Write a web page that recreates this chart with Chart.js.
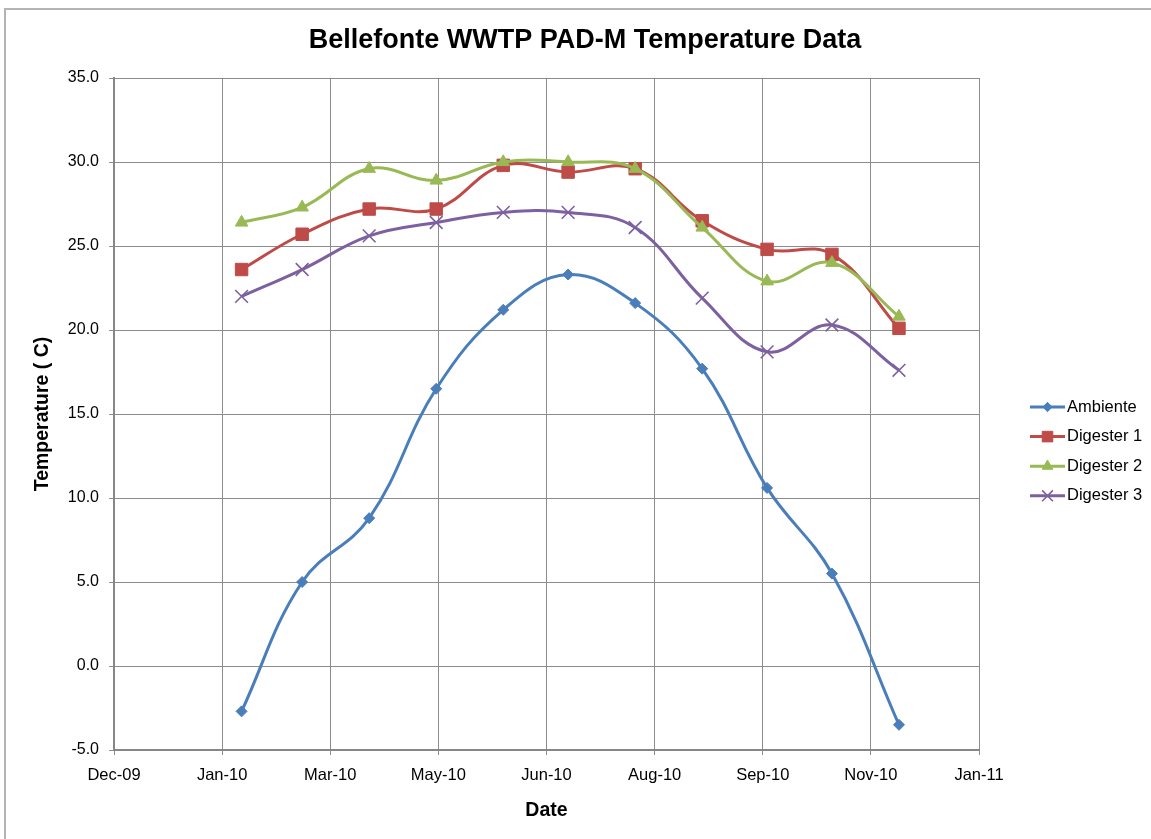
<!DOCTYPE html>
<html>
<head>
<meta charset="utf-8">
<title>Bellefonte WWTP PAD-M Temperature Data</title>
<script src="https://cdn.jsdelivr.net/npm/chart.js@4.4.1/dist/chart.umd.min.js"></script>
<style>
  html, body { margin: 0; padding: 0; background: #fff; }
  #wrap { width: 1151px; height: 839px; position: relative; }
</style>
</head>
<body>
<div id="wrap"><canvas id="tempChart"></canvas></div>
<script>
// sample dates (end of each month, 2010)
const sampleDates = ['2010-01-30', '2010-02-27', '2010-03-30', '2010-04-30', '2010-05-31', '2010-06-30',
                     '2010-07-31', '2010-08-31', '2010-09-30', '2010-10-30', '2010-11-30'];

const ambiente  = [-2.7, 5.0, 8.8, 16.5, 21.2, 23.3, 21.6, 17.7, 10.6, 5.5, -3.5];
const digester1 = [23.6, 25.7, 27.2, 27.2, 29.8, 29.4, 29.6, 26.5, 24.8, 24.5, 20.1];
const digester2 = [26.4, 27.3, 29.6, 28.9, 30.0, 30.0, 29.6, 26.1, 22.9, 24.0, 20.8];
const digester3 = [22.0, 23.6, 25.6, 26.4, 27.0, 27.0, 26.1, 21.9, 18.7, 20.3, 17.6];

// date axis: starts 2-Dec-2009, a label every 50 days (Dec-09 ... Jan-11)
const xAxisStart = '2009-12-02';
const xStepDays = 50;
const xTickCount = 9;
const yMin = -5, yMax = 35, yStep = 5;

const chartTitle = 'Bellefonte WWTP PAD-M Temperature Data';
const monthNames = ['Jan', 'Feb', 'Mar', 'Apr', 'May', 'Jun', 'Jul', 'Aug', 'Sep', 'Oct', 'Nov', 'Dec'];

function dayNum(iso) {
  const [y, m, d] = iso.split('-').map(Number);
  return Date.UTC(y, m - 1, d) / 86400000;
}
function fmtDay(n) {
  const dt = new Date(n * 86400000);
  return monthNames[dt.getUTCMonth()] + '-' + String(dt.getUTCFullYear() % 100).padStart(2, '0');
}

const xMin = dayNum(xAxisStart);
const xTicks = [];
for (let i = 0; i < xTickCount; i++) xTicks.push(xMin + i * xStepDays);
const xMax = xTicks[xTicks.length - 1];

const toPoints = vals => sampleDates.map((d, i) => ({ x: dayNum(d), y: vals[i] }));

const seriesNames = ['Ambiente', 'Digester 1', 'Digester 2', 'Digester 3'];
const seriesValues = [ambiente, digester1, digester2, digester3];
const colors = ['#4A7EBB', '#BE4B48', '#98B954', '#7D60A0'];
const markers = [
  { pointStyle: 'rectRot', radius: 5.5, borderWidth: 1 },
  { pointStyle: 'rect', radius: 8.8, borderWidth: 1 },
  { pointStyle: 'triangle', radius: 7.2, borderWidth: 1 },
  { pointStyle: 'crossRot', radius: 9, borderWidth: 1.6 }
];

const FONT = '"Liberation Sans", Arial, sans-serif';

const datasets = seriesNames.map((name, i) => ({
  label: name,
  data: toPoints(seriesValues[i]),
  borderColor: colors[i],
  backgroundColor: colors[i],
  borderWidth: 3,
  tension: 0.4,
  pointStyle: markers[i].pointStyle,
  pointRadius: markers[i].radius,
  pointHoverRadius: markers[i].radius,
  pointBorderWidth: markers[i].borderWidth,
  pointBackgroundColor: colors[i],
  pointBorderColor: colors[i],
  order: seriesNames.length - 1 - i
}));

// white background, outer frame and title centred on the whole chart object
const frame = {
  id: 'frame',
  beforeDraw(chart) {
    const ctx = chart.ctx;
    ctx.save();
    ctx.fillStyle = '#fff';
    ctx.fillRect(0, 0, chart.width, chart.height);
    ctx.strokeStyle = '#b4b4b4';
    ctx.lineWidth = 2;
    ctx.strokeRect(5, 9, chart.width + 20, chart.height + 20);
    ctx.fillStyle = '#000';
    ctx.font = 'bold 27px ' + FONT;
    ctx.textAlign = 'center';
    ctx.textBaseline = 'middle';
    ctx.fillText(chartTitle, 585, 41);
    ctx.restore();
  }
};

// legend with line + marker, on the right
const sideLegend = {
  id: 'sideLegend',
  afterDraw(chart) {
    const ctx = chart.ctx;
    const x0 = 1030, len = 35, y0 = 407, gap = 29.6;
    ctx.save();
    chart.data.datasets.forEach((ds, i) => {
      const y = y0 + i * gap;
      ctx.strokeStyle = ds.borderColor;
      ctx.lineWidth = 3;
      ctx.beginPath();
      ctx.moveTo(x0, y);
      ctx.lineTo(x0 + len, y);
      ctx.stroke();
      ctx.fillStyle = ds.borderColor;
      ctx.lineWidth = ds.pointBorderWidth;
      Chart.helpers.drawPoint(ctx, {
        pointStyle: ds.pointStyle,
        radius: ds.pointRadius * 0.85,
        borderWidth: ds.pointBorderWidth,
        rotation: 0
      }, x0 + len / 2, y);
      ctx.fillStyle = '#000';
      ctx.font = '16.5px ' + FONT;
      ctx.textBaseline = 'middle';
      ctx.fillText(ds.label, x0 + len + 2, y);
    });
    ctx.restore();
  }
};

new Chart(document.getElementById('tempChart'), {
  type: 'line',
  data: { datasets },
  plugins: [frame, sideLegend],
  options: {
    responsive: true,
    maintainAspectRatio: false,
    animation: false,
    layout: { padding: { left: 0, right: 172, top: 78, bottom: 0 } },
    plugins: {
      legend: { display: false },
      tooltip: { enabled: false },
      title: { display: false }
    },
    scales: {
      x: {
        type: 'linear',
        min: xMin,
        max: xMax,
        afterBuildTicks: scale => { scale.ticks = xTicks.map(v => ({ value: v })); },
        afterFit: scale => { scale.height = 89; },
        grid: { color: '#8c8c8c', lineWidth: 1, tickLength: 5 },
        border: { color: '#868686', width: 2 },
        ticks: {
          autoSkip: false,
          maxRotation: 0,
          padding: 11,
          color: '#000',
          font: { family: FONT, size: 16.5 },
          callback: v => fmtDay(v)
        },
        title: {
          display: true,
          text: 'Date',
          color: '#000',
          font: { family: FONT, size: 19.5, weight: 'bold' },
          padding: { top: 0, bottom: 17 }
        }
      },
      y: {
        min: yMin,
        max: yMax,
        afterFit: scale => { scale.width = 114; },
        grid: { color: '#8c8c8c', lineWidth: 1, tickLength: 5 },
        border: { color: '#868686', width: 2 },
        ticks: {
          stepSize: yStep,
          padding: 10,
          color: '#000',
          font: { family: FONT, size: 16 },
          callback: v => v.toFixed(1)
        },
        title: {
          display: true,
          text: 'Temperature ( C)',
          color: '#000',
          font: { family: FONT, size: 19.5, weight: 'bold' },
          padding: { top: 31, bottom: 0 }
        }
      }
    }
  }
});
</script>
</body>
</html>
